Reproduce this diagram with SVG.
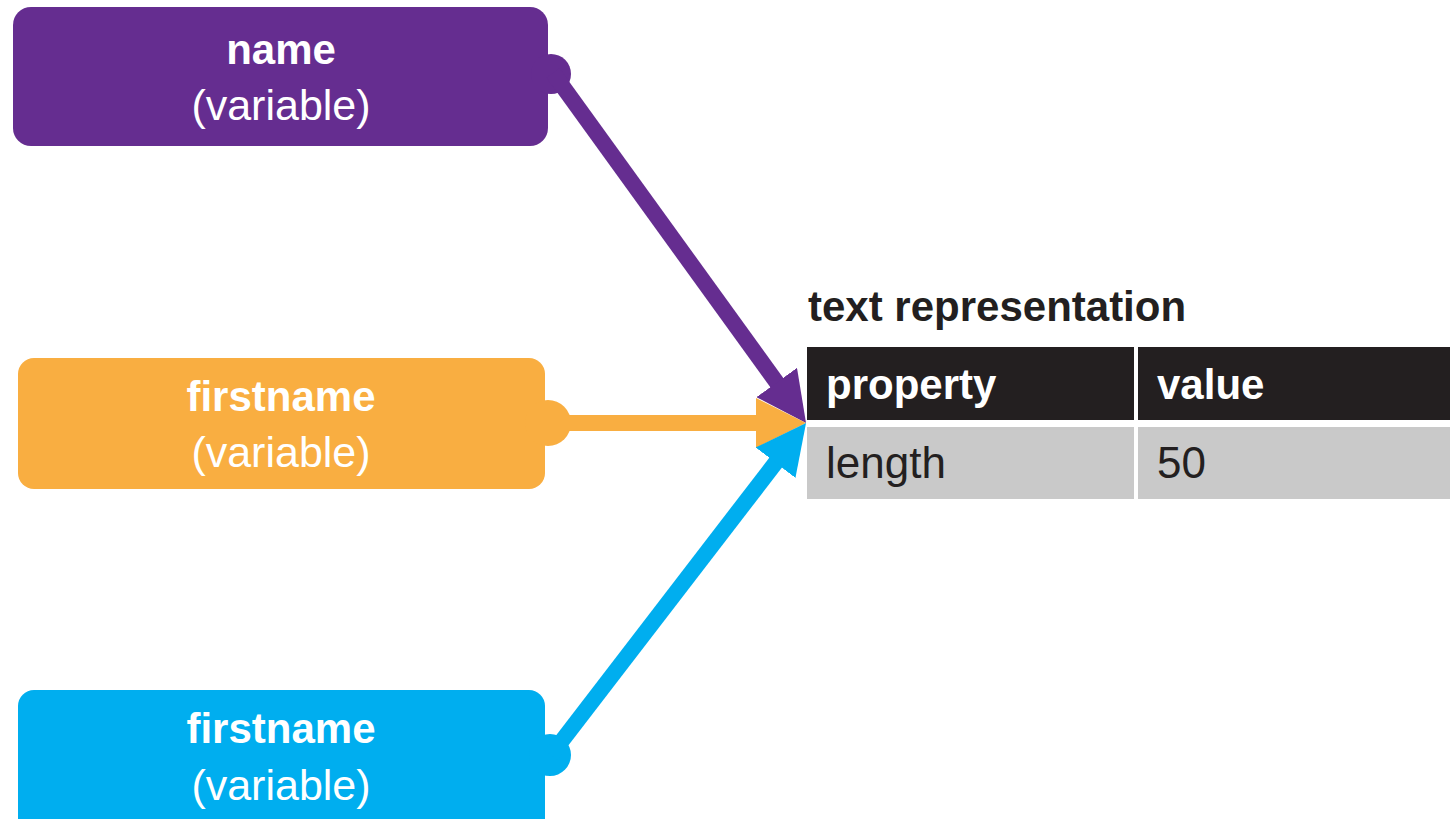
<svg xmlns="http://www.w3.org/2000/svg" width="1450" height="819" viewBox="0 0 1450 819">
<style>
.lbl{font-family:"Liberation Sans",Arial,sans-serif;fill:#fff;text-anchor:middle}
.b{font-weight:bold;font-size:42px}
.r{font-size:43px}
.hd{font-family:"Liberation Sans",Arial,sans-serif;font-weight:bold;font-size:42px;fill:#fff}
.cell{font-family:"Liberation Sans",Arial,sans-serif;font-size:44px;fill:#231f20}
.title{font-family:"Liberation Sans",Arial,sans-serif;font-weight:bold;font-size:42px;fill:#231f20}
.conn{fill:none;stroke-width:16}
</style>
<defs>
<marker id="ahP" markerUnits="userSpaceOnUse" markerWidth="50" markerHeight="50" viewBox="0 0 50 50" refX="2" refY="25" orient="auto"><path d="M0,0 L50,25 L0,50 z" fill="#652d90"/></marker>
<marker id="ahO" markerUnits="userSpaceOnUse" markerWidth="50" markerHeight="50" viewBox="0 0 50 50" refX="2" refY="25" orient="auto"><path d="M0,0 L50,25 L0,50 z" fill="#f9ae41"/></marker>
<marker id="ahC" markerUnits="userSpaceOnUse" markerWidth="50" markerHeight="50" viewBox="0 0 50 50" refX="2" refY="25" orient="auto"><path d="M0,0 L50,25 L0,50 z" fill="#00aeef"/></marker>
</defs>
<g id="node-name">
<rect x="13" y="7" width="535" height="139" rx="18" fill="#652d90"/>
<text class="lbl b" x="281" y="64">name</text>
<text class="lbl r" x="281" y="120">(variable)</text>
</g>
<g id="node-firstname1">
<rect x="18" y="358" width="527" height="131" rx="16" fill="#f9ae41"/>
<text class="lbl b" x="281" y="411">firstname</text>
<text class="lbl r" x="281" y="467">(variable)</text>
</g>
<g id="node-firstname2">
<rect x="18" y="690" width="527" height="150" rx="16" fill="#00aeef"/>
<text class="lbl b" x="281" y="743">firstname</text>
<text class="lbl r" x="281" y="800">(variable)</text>
</g>
<g id="node-table">
<text class="title" x="808" y="321">text representation</text>
<rect x="807" y="347" width="327" height="73" fill="#231f20"/>
<rect x="1138" y="347" width="312" height="73" fill="#231f20"/>
<rect x="807" y="427" width="327" height="72" fill="#c9c9c9"/>
<rect x="1138" y="427" width="312" height="72" fill="#c9c9c9"/>
<text class="hd" x="826" y="399">property</text>
<text class="hd" x="1157" y="399">value</text>
<text class="cell" x="826" y="478">length</text>
<text class="cell" x="1157" y="478">50</text>
</g>
<g id="connectors">
<circle cx="551" cy="74" r="20" fill="#652d90"/>
<line class="conn" x1="553" y1="73" x2="777.9" y2="384.1" stroke="#652d90" marker-end="url(#ahP)"/>
<circle cx="548" cy="423" r="23" fill="#f9ae41"/>
<line class="conn" x1="550" y1="423" x2="758" y2="423" stroke="#f9ae41" marker-end="url(#ahO)"/>
<circle cx="550" cy="755" r="21" fill="#00aeef"/>
<line class="conn" x1="551" y1="755" x2="776.8" y2="461.1" stroke="#00aeef" marker-end="url(#ahC)"/>
</g>
</svg>
